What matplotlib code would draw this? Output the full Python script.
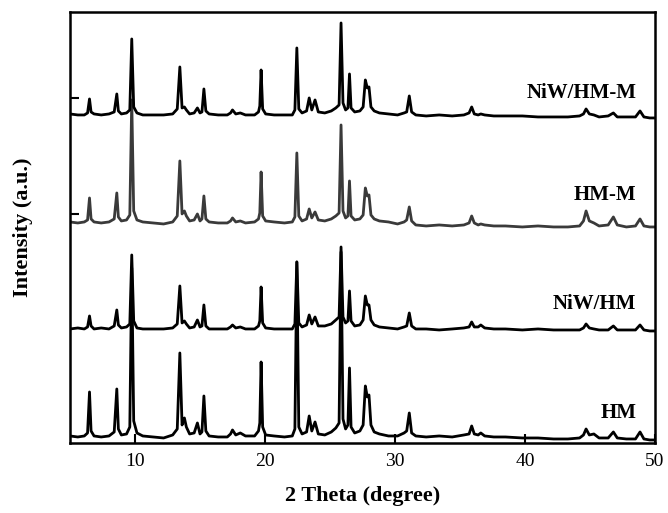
import matplotlib.pyplot as plt
import numpy as np

plt.rcParams['font.family'] = ['Liberation Serif', 'DejaVu Serif']

# 2 theta grid shared by all four patterns (degree)
two_theta = [
    5.0, 5.6, 6.1, 6.35, 6.5, 6.62, 6.85, 7.4, 8.0, 8.4, 8.6, 8.72, 8.95, 9.35, 9.6, 9.75, 9.9, 10.15, 10.6,
    11.4, 12.2, 12.9, 13.25, 13.45, 13.62, 13.8, 13.95, 14.2, 14.55, 14.8, 15.0, 15.15, 15.3, 15.45, 15.7, 16.4,
    17.1, 17.35, 17.5, 17.75, 18.1, 18.5, 19.2, 19.5, 19.6, 19.7, 19.82, 20.05, 20.7, 21.5,
    22.1, 22.3, 22.45, 22.6, 22.85, 23.2, 23.4, 23.6, 23.85, 24.1, 24.6, 25.1, 25.45,
    25.7, 25.85, 26.0, 26.2, 26.38, 26.5, 26.62, 26.9, 27.3, 27.55, 27.72, 27.87, 28.0, 28.15, 28.4, 28.8, 29.5,
    30.2, 30.7, 30.9, 31.1, 31.28, 31.6, 32.4, 33.4, 34.4, 35.3, 35.7, 35.9, 36.1, 36.4, 36.6, 36.9, 37.6,
    38.5, 39.8, 41.0, 42.2, 43.3, 44.2, 44.5, 44.7, 44.95, 45.3, 45.7, 46.4, 46.8, 47.1, 47.8, 48.5, 48.85, 49.15, 49.6, 50.0,
]

hm = [
    1, 0, 1, 4, 45, 6, 1, 0, 1, 5, 48, 8, 2, 3, 10, 169, 16, 4, 1,
    0, -1, 2, 8, 84, 12, 19, 10, 3, 4, 14, 3, 5, 41, 6, 1, 0,
    0, 3, 7, 2, 4, 1, 1, 6, 14, 75, 10, 2, 1, 0,
    1, 8, 175, 10, 3, 5, 21, 6, 15, 3, 2, 5, 9,
    14, 185, 18, 8, 12, 69, 10, 4, 6, 12, 51, 40, 42, 12, 5, 3, 1,
    1, 4, 6, 24, 4, 1, 0, 1, 0, 2, 3, 11, 3, 2, 4, 1, 0,
    0, -1, -1, -2, -2, -1, 2, 8, 2, 3, -1, -1, 5, -1, -2, -2, 5, -2, -3, -3,
]

niw_hm = [
    0, 1, 0, 2, 13, 3, 0, 1, 0, 3, 19, 4, 1, 2, 5, 74, 8, 1, 0,
    0, 0, 1, 5, 43, 6, 8, 5, 1, 2, 9, 2, 3, 24, 3, 0, 0,
    0, 2, 4, 1, 2, 0, 0, 3, 8, 42, 6, 1, 0, 0,
    0, 5, 67, 6, 2, 4, 14, 5, 12, 3, 3, 5, 9,
    12, 82, 12, 6, 8, 38, 8, 3, 4, 9, 33, 24, 24, 9, 4, 2, 1,
    0, 2, 3, 16, 3, 0, 0, -1, 0, 1, 2, 7, 2, 2, 4, 1, 0,
    0, -1, 0, -1, -1, -1, 1, 5, 1, 0, -1, -1, 3, -1, -1, -1, 4, -1, -2, -2,
]

hm_m = [
    1, 0, 1, 3, 25, 4, 1, 0, 1, 4, 30, 6, 2, 3, 8, 123, 12, 3, 1,
    0, -1, 1, 7, 62, 9, 12, 7, 2, 3, 9, 2, 4, 27, 4, 1, 0,
    0, 2, 5, 1, 2, 0, 1, 4, 10, 51, 7, 2, 1, 0,
    1, 6, 70, 7, 2, 4, 14, 5, 11, 3, 2, 4, 7,
    10, 98, 12, 5, 7, 42, 7, 3, 4, 8, 35, 27, 28, 8, 4, 2, 1,
    -1, 1, 3, 16, 2, -2, -3, -2, -3, -2, 0, 7, 0, -2, -1, -2, -3,
    -3, -4, -3, -4, -4, -3, 2, 12, 2, 0, -3, -2, 6, -2, -4, -3, 4, -3, -4, -4,
]

niw_hm_m = [
    1, 0, 0, 2, 16, 3, 1, 0, 1, 3, 21, 4, 1, 2, 5, 76, 8, 2, 0,
    0, 0, 1, 6, 48, 7, 8, 5, 1, 2, 7, 2, 3, 26, 4, 1, 0,
    0, 2, 5, 1, 2, 0, 0, 3, 9, 45, 6, 1, 0, 0,
    0, 5, 67, 6, 2, 4, 17, 5, 15, 3, 2, 4, 7,
    10, 92, 12, 5, 7, 41, 7, 3, 4, 8, 35, 27, 28, 8, 4, 2, 1,
    0, 2, 3, 19, 3, 0, -1, 0, -1, 0, 2, 8, 1, 0, 1, 0, -1,
    -1, -1, -2, -2, -2, -1, 1, 6, 1, 0, -2, -1, 2, -2, -2, -2, 4, -2, -3, -3,
]

names = ['HM', 'NiW/HM', 'HM-M', 'NiW/HM-M']
patterns = [hm, niw_hm, hm_m, niw_hm_m]

offsets = [6, 114, 220, 328]
label_y = [30, 139, 248, 350]
colors = ['black', 'black', '#3a3a3a', 'black']

fig = plt.figure(figsize=(6.68, 5.13), dpi=100)
ax = fig.add_axes([0.1048, 0.1365, 0.8757, 0.8402])

for name, pat, off, ly, c in zip(names, patterns, offsets, label_y, colors):
    ax.plot(two_theta, np.array(pat) + off, color=c, lw=2.0)
    ax.text(48.55, ly, name, ha='right', va='center', fontsize=15, fontweight='bold')

ax.set_xlim(5, 50)
ax.set_ylim(0, 431)
ax.set_xticks([10, 20, 30, 40, 50])
ax.set_yticks([229, 345])
ax.set_yticklabels([])
ax.tick_params(direction='in', length=6.5, width=1.5, labelsize=14, pad=7)
for s in ax.spines.values():
    s.set_linewidth(1.8)

ax.set_xlabel('2 Theta (degree)', fontsize=16, fontweight='bold')
ax.set_ylabel('Intensity (a.u.)', fontsize=16, fontweight='bold')
ax.xaxis.set_label_coords(0.5, -0.1)
ax.yaxis.set_label_coords(-0.063, 0.5)

fig.savefig('out.png', dpi=100)
